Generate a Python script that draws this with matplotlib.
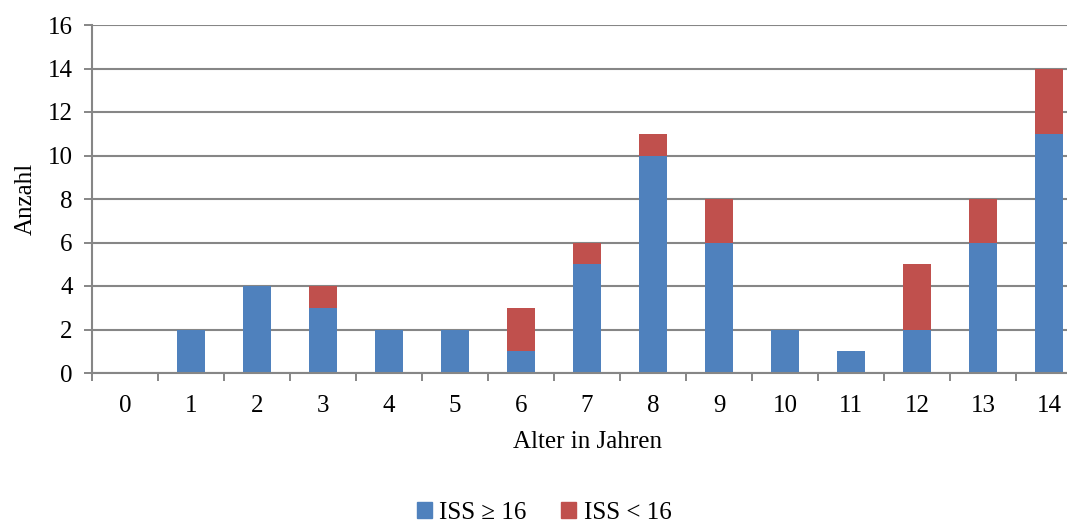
import matplotlib.pyplot as plt
from matplotlib.patches import Patch

ages = list(range(15))
iss_high = [0, 2, 4, 3, 2, 2, 1, 5, 10, 6, 2, 1, 2, 6, 11]
iss_low = [0, 0, 0, 1, 0, 0, 2, 1, 1, 2, 0, 0, 3, 2, 3]

BLUE = "#4F81BD"
RED = "#C0504D"
GRID = "#868686"
FS = 18

plt.rcParams["font.family"] = ["Liberation Serif", "DejaVu Serif"]

fig = plt.figure(figsize=(10.67, 5.23), dpi=100)
ax = fig.add_axes([92 / 1067, 1 - 373 / 523, 990 / 1067, 348 / 523])
ax.set_axisbelow(True)

ax.bar(ages, iss_high, width=0.41, color=BLUE, linewidth=0, zorder=3)
ax.bar(ages, iss_low, width=0.41, bottom=iss_high, color=RED, linewidth=0, zorder=3)

ax.set_xlim(-0.5, 14.5)
ax.set_ylim(0, 16)
ax.set_yticks(range(0, 17, 2))
ax.set_xticks(ages)
ax.set_xticklabels([str(a) for a in ages])
ax.set_xticks([a - 0.5 for a in range(16)], minor=True)
ax.tick_params(axis="x", which="major", length=0, pad=16, labelsize=FS)
ax.tick_params(axis="x", which="minor", length=6, color=GRID, width=1.4)
ax.tick_params(axis="y", length=6, color=GRID, width=1.4, labelsize=FS, pad=8)

ax.grid(axis="y", color=GRID, linewidth=1.5)
for s in ["top", "right"]:
    ax.spines[s].set_visible(False)
for s in ["left", "bottom"]:
    ax.spines[s].set_color(GRID)
    ax.spines[s].set_linewidth(1.5)
    ax.spines[s].set_zorder(4)

ax.set_ylabel("Anzahl", fontsize=FS, labelpad=8)
ax.set_xlabel("Alter in Jahren", fontsize=FS, labelpad=10)

handles = [Patch(color=BLUE, label="ISS ≥ 16"), Patch(color=RED, label="ISS < 16")]
fig.legend(handles=handles, loc="lower center", bbox_to_anchor=(0.51, -0.045), ncol=2,
           frameon=False, fontsize=FS, handlelength=0.6, handleheight=0.6,
           handletextpad=0.3, columnspacing=1.4)

fig.savefig("out.png", dpi=100)
